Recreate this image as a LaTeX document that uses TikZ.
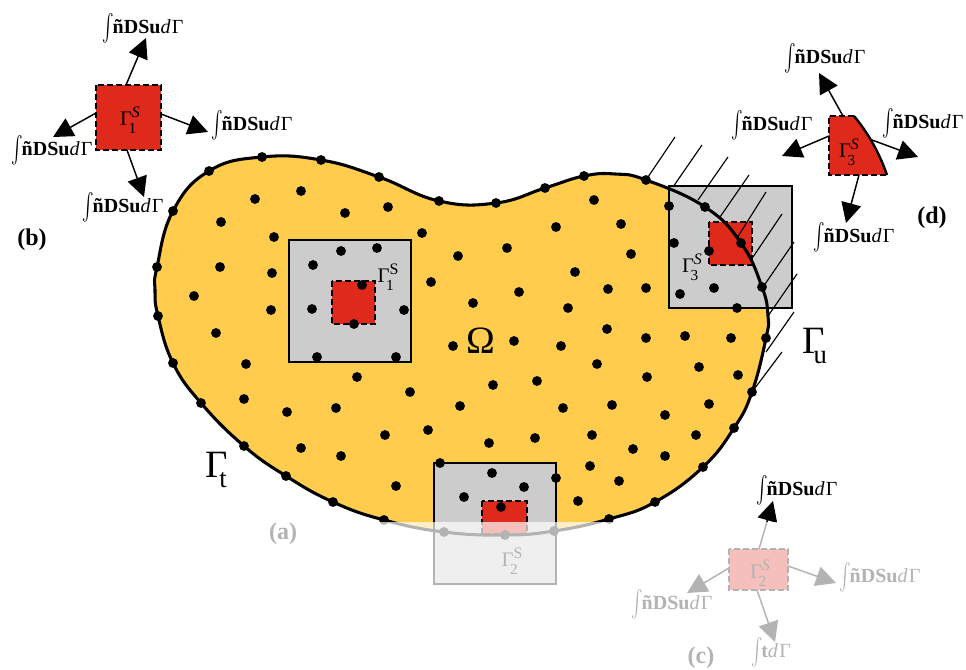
\documentclass[tikz,border=0pt]{standalone}
\usepackage{fontspec}
\setmainfont{Liberation Serif}
\usetikzlibrary{arrows.meta}
\newcommand{\intsign}{\raisebox{-3pt}{\scalebox{1.3}[2]{$\int$}}\kern-1pt}
\newcommand{\labtxt}{\fontsize{15}{18}\selectfont\intsign\textbf{ñDSu}\textit{d}\kern1pt Γ}
\newcommand{\labt}{\fontsize{15}{18}\selectfont\intsign\textbf{t}\textit{d}\kern1pt Γ}
\newcommand{\gamS}[2]{\fontsize{15.5}{18}\selectfont Γ\rlap{\kern-2.5pt\raisebox{-5.5pt}{\fontsize{11.5}{12}\selectfont #1}}\raisebox{6.5pt}{\fontsize{12}{12}\selectfont #2}}
\definecolor{blobc}{HTML}{FFCC4D}
\definecolor{redc}{HTML}{DF2A1B}
\definecolor{boxc}{HTML}{CCCCCC}
\tikzset{
  pxl/.style={inner sep=0pt,outer sep=0pt},
  lab/.style={pxl},
  letter/.style={pxl,font=\fontsize{18}{20}\selectfont\bfseries},
  big/.style={pxl,font=\fontsize{29}{32}\selectfont},
  gbox/.style={draw=black,fill=boxc,line width=1.1pt},
  rbox/.style={draw=black,line width=1.1pt,dash pattern=on 4.5pt off 2.25pt},
  arr/.style={line width=1.1pt,-{Triangle[length=15pt,width=15pt]}},
  hatch/.style={line width=0.85pt}
}
\begin{document}
\begin{tikzpicture}[x=0.75pt,y=-0.75pt]
\useasboundingbox (0,0) rectangle (966,670);
% the domain
\def\blobpath{plot[smooth cycle,tension=0.75] coordinates{(157,267)(173,211)(209,171)(262,157)(321,160)(379,177)(439,201)(496,203)(545,188)(584,176)(615,174)(646,180)(705,207)(741,243)(762,287)(768,316)(766,338)(752,392)(734,428)(703,467)(655,502)(609,519)(554,531)(505,535)(444,532)(384,520)(333,502)(286,476)(244,446)(201,403)(173,363)(158,316)(155,290)}}
\fill[blobc] \blobpath;
% support domains
\draw[gbox] (289,240) rectangle (411,362);
\draw[gbox] (669,186) rectangle (792,308);
\draw[gbox] (434,463) rectangle (556,584);
\fill[redc] (332,281) rectangle (375,324);
\fill[redc] (709,222) rectangle (752,265);
\fill[redc] (482,501) rectangle (527,534);
\draw[rbox] (332,281) rectangle (375,324);
\draw[rbox] (709,222) rectangle (752,265);
\draw[rbox] (482,501) rectangle (527,534);
% constraint hatching
\foreach \ax/\ay/\bx/\by in {646/180/675/137,673/187/702/145,698/200/728/157,720/217/749/175,737/238/766/192,753/257/782/214,763/287/794/242,768/316/797/274,766/352/794/312,752/392/782/352}
  \draw[hatch] (\ax,\ay) -- (\bx,\by);
\draw[line width=2.3pt] \blobpath;
% boundary nodes
\foreach \x/\y in {157/267,173/211,209/171,262/157,321/160,379/177,439/201,496/203,545/188,584/176,646/180,705/207,741/243,762/287,766/338,752/392,734/428,703/467,655/502,609/519,554/531,505/535,444/532,384/520,333/502,286/476,244/446,201/403,173/363,158/316}
  \fill (\x,\y) circle (3.7pt);
% interior nodes
\foreach \x/\y in {255/199,301/191,221/222,274/237,345/213,388/207,422/233,220/267,272/273,194/296,271/310,216/333,246/364,431/282,357/377,341/251,377/248,313/265,362/285,312/309,404/310,354/324,317/357,396/357,410/392,244/399,287/412,336/408,428/430,385/435,301/448,341/456,396/486,440/463,594/200,556/227,621/224,507/248,458/256,631/254,575/272,608/289,646/288,519/292,473/303,568/308,607/329,646/338,453/346,514/341,561/346,669/206,674/243,680/294,714/288,709/251,737/308,685/336,731/338,699/367,738/375,647/377,597/364,493/385,537/381,460/406,563/408,612/405,709/404,665/415,489/443,535/438,592/435,696/435,633/449,665/456,590/466,619/481,578/501,556/478,492/473,524/487,464/497,501/507}
  \fill (\x,\y) circle (3.7pt);
% domain labels
\node[big] (omega) at (481,341) {Ω};
\node[big,anchor=base west] (gt) at (205,477) {Γ\kern-6pt\raisebox{-7.5pt}{\fontsize{20}{22}\selectfont t}};
\node[big,anchor=base west] (gu) at (802,353) {Γ\kern-8pt\raisebox{-7.5pt}{\fontsize{20}{22}\selectfont u}};
\node[pxl] (g1) at (388,277) {\gamS{1}{S}};
\node[pxl] (g2) at (512,561) {\gamS{2}{S}};
\node[pxl] (g3) at (692,267) {\gamS{3}{\itshape S}};
\node[letter] (la) at (283,534) {(a)};
% sketch (b)
\fill[redc] (96,85) rectangle (161,150);
\draw[rbox] (96,85) rectangle (161,150);
\node[pxl] (bg) at (130,120) {\gamS{1}{\itshape S}};
\node[lab] (bt) at (143,28) {\labtxt};
\node[lab] (br) at (252,125) {\labtxt};
\node[lab] (bl) at (52,150) {\labtxt};
\node[lab] (bb) at (123,207) {\labtxt};
\coordinate (bta) at (126,85); \coordinate (btb) at (146,38);
\coordinate (bra) at (161,114); \coordinate (brb) at (208,132);
\coordinate (bla) at (96,113); \coordinate (blb) at (53,137);
\coordinate (bba) at (127,150); \coordinate (bbb) at (144,197);
\draw[arr] (bta) -- (btb);
\draw[arr] (bra) -- (brb);
\draw[arr] (bla) -- (blb);
\draw[arr] (bba) -- (bbb);
\node[letter] (lb) at (32,240) {(b)};
% sketch (d)
\fill[redc] (829,116) -- (854,116) .. controls (868,133) and (879,152) .. (887,175) -- (829,175) -- cycle;
\draw[rbox] (854,116) -- (829,116) -- (829,175) -- (887,175);
\draw[line width=1.8pt] (854,116) .. controls (868,133) and (879,152) .. (887,175);
\node[pxl] (dg) at (849,152) {\gamS{3}{\itshape S}};
\node[lab] (dt) at (825,58) {\labtxt};
\node[lab] (dl) at (772,125) {\labtxt};
\node[lab] (dr) at (923,123) {\labtxt};
\node[lab] (db) at (854,237) {\labtxt};
\coordinate (dta) at (843,116); \coordinate (dtb) at (819,73);
\coordinate (dra) at (872,140); \coordinate (drb) at (918,157);
\coordinate (dla) at (829,136); \coordinate (dlb) at (782,156);
\coordinate (dba) at (859,175); \coordinate (dbb) at (846,223);
\draw[arr] (dta) -- (dtb);
\draw[arr] (dra) -- (drb);
\draw[arr] (dla) -- (dlb);
\draw[arr] (dba) -- (dbb);
\node[letter] (ld) at (932,218) {(d)};
% sketch (c)
\fill[redc] (729,549) rectangle (788,590);
\draw[rbox] (729,549) rectangle (788,590);
\node[pxl] (cg) at (760,573) {\gamS{2}{\itshape S}};
\node[lab] (ct) at (797,490) {\labtxt};
\node[lab] (cr) at (880,577) {\labtxt};
\node[lab] (cl) at (672,604) {\labtxt};
\node[lab] (cb) at (771,652) {\labt};
\coordinate (cta) at (759,549); \coordinate (ctb) at (773,501);
\coordinate (cra) at (788,566); \coordinate (crb) at (836,583);
\coordinate (cla) at (729,568); \coordinate (clb) at (687,593);
\coordinate (cba) at (757,590); \coordinate (cbb) at (775,642);
\draw[arr] (cta) -- (ctb);
\draw[arr] (cra) -- (crb);
\draw[arr] (cla) -- (clb);
\draw[arr] (cba) -- (cbb);
\node[letter] (lc) at (701,658) {(c)};
% fade of the lower part
\fill[white,opacity=0.7] (0,522) rectangle (966,670);
\end{tikzpicture}
\end{document}
